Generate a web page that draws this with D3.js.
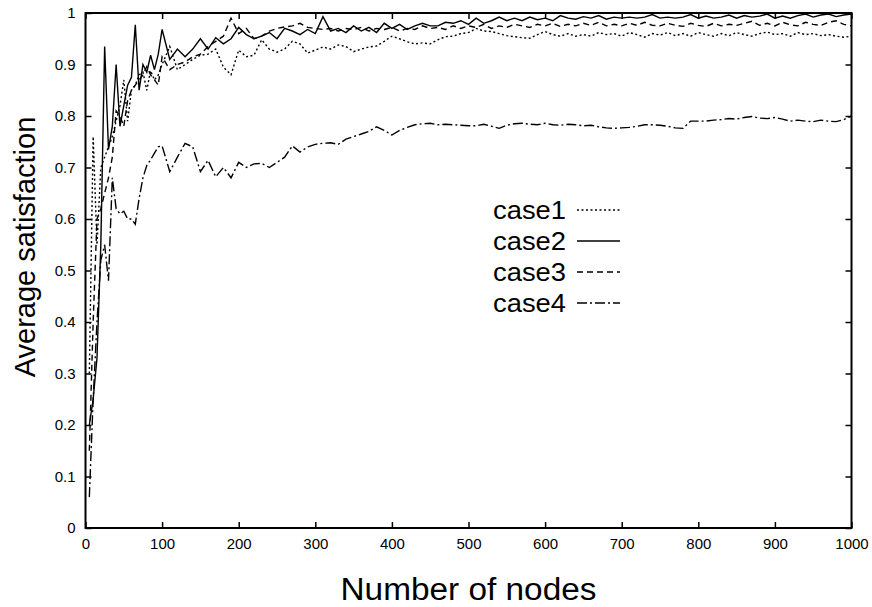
<!DOCTYPE html>
<html>
<head>
<meta charset="utf-8">
<script src="https://cdn.jsdelivr.net/npm/d3@7"></script>
<style>
  html, body { margin: 0; padding: 0; background: #fff; }
  svg { display: block; font-family: "Liberation Sans", Arial, Helvetica, sans-serif; }
</style>
</head>
<body>
<svg id="chart" width="872" height="607"></svg>
<script>
// ---- data ----
const nodes = [5,10,15,20,25,30,35,40,45,50,55,60,65,70,75,80,85,90,95,100,
  110,120,130,140,150,160,170,180,190,200,210,220,230,240,250,260,270,280,290,300,
  310,320,330,340,350,360,370,380,390,400,410,420,430,440,450,460,470,480,490,500,
  510,520,530,540,550,560,570,580,590,600,610,620,630,640,650,660,670,680,690,700,
  710,720,730,740,750,760,770,780,790,800,810,820,830,840,850,860,870,880,890,900,
  910,920,930,940,950,960,970,980,990,1000];

const case1 = [0.30,0.76,0.55,0.70,0.72,0.74,0.76,0.79,0.82,0.87,0.79,0.85,0.86,0.88,0.885,0.85,0.888,0.87,0.88,0.90,
  0.935,0.89,0.90,0.91,0.918,0.92,0.93,0.895,0.88,0.928,0.915,0.918,0.948,0.93,0.924,0.93,0.945,0.94,0.922,0.928,
  0.934,0.93,0.938,0.935,0.925,0.93,0.934,0.936,0.945,0.955,0.95,0.944,0.94,0.942,0.94,0.948,0.954,0.955,0.96,0.962,
  0.97,0.965,0.964,0.96,0.956,0.954,0.952,0.951,0.958,0.964,0.958,0.955,0.96,0.955,0.958,0.955,0.962,0.958,0.96,0.955,
  0.962,0.958,0.953,0.96,0.957,0.962,0.956,0.96,0.955,0.962,0.958,0.955,0.96,0.956,0.962,0.958,0.955,0.96,0.963,0.958,
  0.96,0.955,0.962,0.958,0.96,0.956,0.958,0.955,0.953,0.955];

const case2 = [0.20,0.25,0.33,0.55,0.935,0.735,0.78,0.90,0.78,0.82,0.86,0.875,0.977,0.85,0.90,0.885,0.918,0.89,0.92,0.968,
  0.91,0.93,0.915,0.93,0.95,0.93,0.952,0.94,0.95,0.972,0.958,0.95,0.955,0.962,0.95,0.97,0.965,0.958,0.968,0.96,
  0.993,0.965,0.97,0.962,0.975,0.965,0.972,0.962,0.98,0.97,0.978,0.968,0.975,0.98,0.975,0.975,0.982,0.98,0.985,0.978,
  0.99,0.98,0.985,0.992,0.985,0.99,0.985,0.992,0.987,0.99,0.985,0.995,0.99,0.988,0.993,0.99,0.995,0.988,0.992,0.99,
  0.992,0.99,0.992,0.997,0.99,0.992,0.99,0.992,0.997,0.99,0.994,0.99,0.992,0.996,0.99,0.995,0.992,0.994,0.998,0.99,
  0.994,0.99,0.995,0.998,0.992,0.996,0.998,0.993,0.996,0.998];

const case3 = [0.15,0.40,0.60,0.62,0.65,0.68,0.72,0.81,0.80,0.78,0.83,0.85,0.86,0.87,0.88,0.896,0.88,0.87,0.86,0.915,
  0.89,0.90,0.905,0.915,0.92,0.935,0.945,0.955,0.99,0.96,0.97,0.95,0.955,0.965,0.97,0.973,0.975,0.98,0.972,0.97,
  0.968,0.97,0.965,0.97,0.968,0.972,0.965,0.97,0.968,0.972,0.965,0.97,0.968,0.975,0.97,0.972,0.968,0.975,0.97,0.975,
  0.972,0.978,0.97,0.975,0.972,0.978,0.975,0.972,0.978,0.975,0.98,0.974,0.978,0.975,0.98,0.976,0.982,0.975,0.978,0.975,
  0.98,0.976,0.982,0.976,0.975,0.98,0.976,0.974,0.98,0.976,0.974,0.98,0.975,0.978,0.976,0.98,0.984,0.976,0.98,0.975,
  0.982,0.977,0.975,0.982,0.978,0.976,0.982,0.985,0.978,0.975];

const case4 = [0.06,0.25,0.40,0.52,0.55,0.48,0.68,0.62,0.61,0.615,0.60,0.60,0.59,0.64,0.68,0.704,0.715,0.728,0.74,0.742,
  0.692,0.72,0.747,0.74,0.692,0.714,0.682,0.70,0.68,0.71,0.70,0.707,0.708,0.70,0.71,0.72,0.742,0.73,0.74,0.745,
  0.747,0.748,0.745,0.755,0.76,0.765,0.77,0.779,0.772,0.763,0.772,0.778,0.783,0.785,0.786,0.783,0.784,0.783,0.782,0.781,
  0.781,0.784,0.78,0.776,0.782,0.785,0.786,0.784,0.783,0.786,0.783,0.782,0.784,0.783,0.781,0.782,0.779,0.777,0.776,0.777,
  0.778,0.78,0.783,0.783,0.782,0.78,0.777,0.776,0.79,0.79,0.79,0.792,0.793,0.795,0.794,0.797,0.799,0.796,0.795,0.797,
  0.794,0.79,0.792,0.79,0.789,0.792,0.79,0.789,0.793,0.80];

const seriesNames = ["case1", "case2", "case3", "case4"];
const xTicks = [0,100,200,300,400,500,600,700,800,900,1000];
const yTicks = [0,0.1,0.2,0.3,0.4,0.5,0.6,0.7,0.8,0.9,1];
const xTitle = "Number of nodes";
const yTitle = "Average satisfaction";

// ---- layout ----
const margin = {left: 85.5, right: 20.5, top: 13, bottom: 79};
const W = 872, H = 607;
const svg = d3.select("#chart");
const x = d3.scaleLinear().domain([0, 1000]).range([margin.left, W - margin.right]);
const y = d3.scaleLinear().domain([0, 1]).range([H - margin.bottom, margin.top]);

const dashes = {case1: "2,2.5", case2: null, case3: "6,4", case4: "10,3,2,3"};
const dataMap = {case1, case2, case3, case4};

const plot = svg.append("g");
const lineGen = d3.line().x(d => x(d[0])).y(d => y(d[1]));

seriesNames.forEach(name => {
  const pts = nodes.map((n, i) => [n, dataMap[name][i]]);
  plot.append("path")
    .datum(pts)
    .attr("d", lineGen)
    .attr("fill", "none")
    .attr("stroke", "#000")
    .attr("stroke-width", 1.4)
    .attr("stroke-linejoin", "miter")
    .attr("stroke-dasharray", dashes[name]);
});

// axes (ticks inward)
const tickLen = 6;
const bottomAxis = d3.axisBottom(x).tickValues(xTicks).tickSize(-tickLen).tickPadding(10).tickFormat(d3.format("d"));
const leftAxis = d3.axisLeft(y).tickValues(yTicks).tickSize(-tickLen).tickPadding(10).tickFormat(d => d === 0 || d === 1 ? String(d) : d3.format(".1f")(d));
const topAxis = d3.axisTop(x).tickValues(xTicks).tickSize(-tickLen).tickFormat("");
const rightAxis = d3.axisRight(y).tickValues(yTicks).tickSize(-tickLen).tickFormat("");

function styleAxis(g) {
  g.select(".domain").remove();
  g.selectAll(".tick line").attr("stroke", "#000").attr("stroke-width", 1.5);
  g.selectAll(".tick text").attr("fill", "#000").style("font-size", "15px");
}

svg.append("g").attr("transform", `translate(0,${y(0)})`).call(bottomAxis).call(styleAxis);
svg.append("g").attr("transform", `translate(${x(0)},0)`).call(leftAxis).call(styleAxis);
svg.append("g").attr("transform", `translate(0,${y(1)})`).call(topAxis).call(styleAxis);
svg.append("g").attr("transform", `translate(${x(1000)},0)`).call(rightAxis).call(styleAxis);

// frame
svg.append("rect")
  .attr("x", x(0)).attr("y", y(1))
  .attr("width", x(1000) - x(0)).attr("height", y(0) - y(1))
  .attr("fill", "none").attr("stroke", "#000").attr("stroke-width", 2);

// titles
svg.append("text")
  .attr("x", (x(0) + x(1000)) / 2).attr("y", 600)
  .attr("text-anchor", "middle")
  .style("font-size", "31px")
  .attr("textLength", 256)
  .attr("lengthAdjust", "spacingAndGlyphs")
  .text(xTitle);

svg.append("text")
  .attr("transform", `translate(35,247) rotate(-90)`)
  .attr("text-anchor", "middle")
  .style("font-size", "29px")
  .text(yTitle);

// legend
const legend = svg.append("g");
seriesNames.forEach((name, i) => {
  const cy = 210 + i * 31;
  legend.append("text")
    .attr("x", 493).attr("y", cy + 9)
    .style("font-size", "26px")
    .attr("textLength", 73)
    .attr("lengthAdjust", "spacingAndGlyphs")
    .text(name);
  legend.append("line")
    .attr("x1", 577).attr("x2", 620)
    .attr("y1", cy).attr("y2", cy)
    .attr("stroke", "#000").attr("stroke-width", 1.4)
    .attr("stroke-dasharray", dashes[name]);
});
</script>
</body>
</html>
